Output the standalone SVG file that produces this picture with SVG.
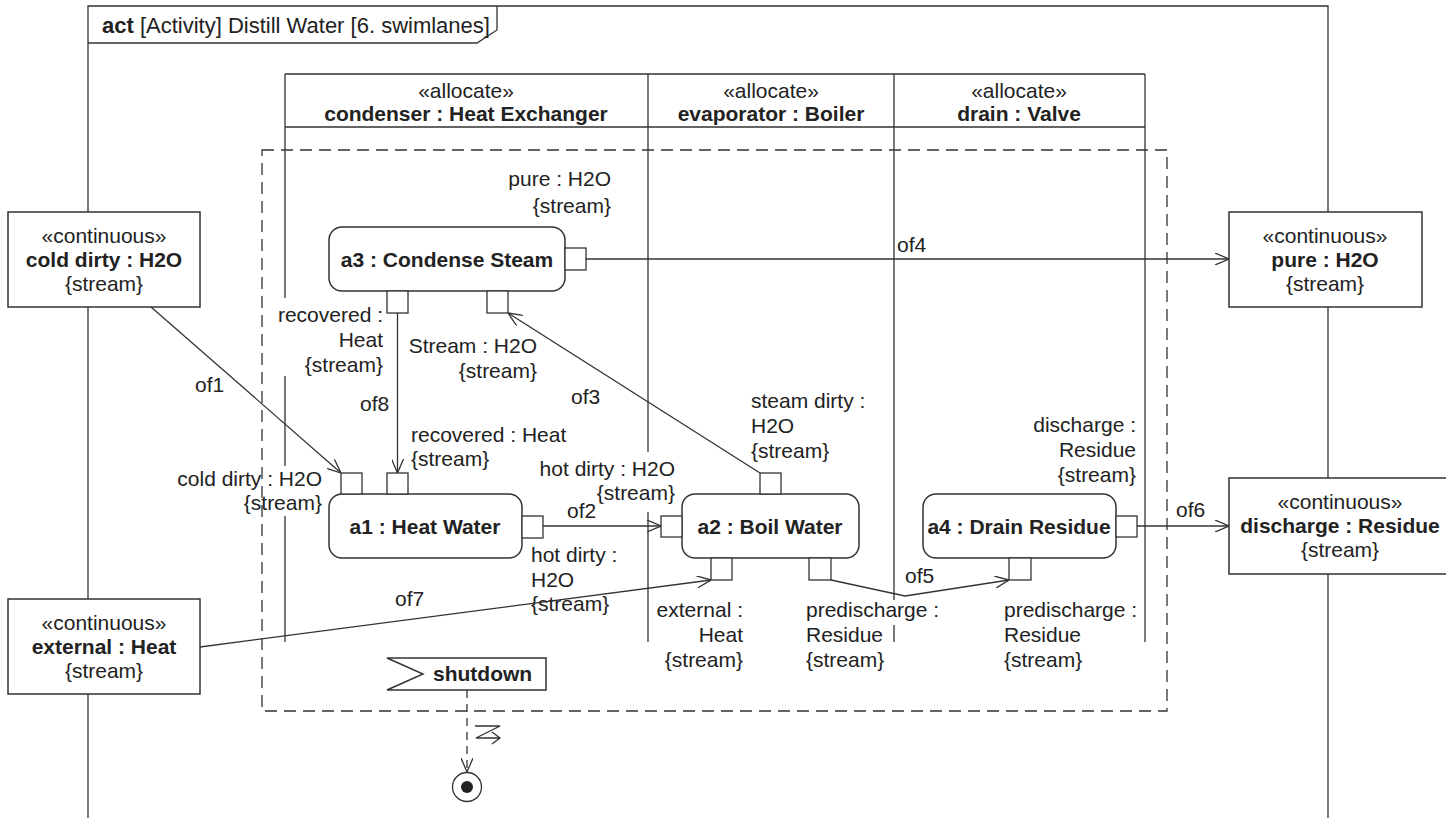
<svg xmlns="http://www.w3.org/2000/svg" width="1446" height="818" viewBox="0 0 1446 818">
  <style>
    text { font-family: "Liberation Sans", Arial, sans-serif; font-size: 21px; fill: #222; }
    .b { font-weight: bold; }
    .m { text-anchor: middle; }
    .e { text-anchor: end; }
    .ln { stroke: #333; stroke-width: 1.3; fill: none; }
    .box { stroke: #333; stroke-width: 1.5; fill: #fff; }
    .pin { stroke: #333; stroke-width: 1.3; fill: #fff; }
    .dash { stroke: #333; stroke-width: 1.3; fill: none; stroke-dasharray: 12 7; }
  </style>
  <defs>
    <marker id="arr" viewBox="0 0 14 12" refX="14" refY="6" markerWidth="14" markerHeight="12" markerUnits="userSpaceOnUse" orient="auto">
      <path d="M0,0 L14,6 L0,12" fill="none" stroke="#333" stroke-width="1.3"/>
    </marker>
  </defs>

  <rect width="1446" height="818" fill="#fff"/>

  <!-- activity frame -->
  <g id="frame">
    <path class="ln" d="M88,818 L88,6 L1328,6 L1328,818" stroke-width="1.5"/>
    <path class="ln" d="M88,43 L477,43 L497,30 L497,6"/>
    <text x="102" y="33" style="font-size:22px"><tspan class="b">act</tspan> [Activity] Distill Water [6. swimlanes]</text>
  </g>

  <!-- swimlanes -->
  <g id="swimlanes">
    <path class="ln" d="M285,74 L1145,74 M285,127 L1145,127"/>
    <path class="ln" d="M285,74 L285,298 M285,376 L285,466 M285,516 L285,642"/>
    <path class="ln" d="M648,74 L648,452 M648,512 L648,642"/>
    <path class="ln" d="M894,74 L894,600 M894,625 L894,642"/>
    <path class="ln" d="M1145,74 L1145,642"/>
    <text class="m" x="466" y="98">«allocate»</text>
    <text class="m b" x="466" y="121">condenser : Heat Exchanger</text>
    <text class="m" x="771" y="98">«allocate»</text>
    <text class="m b" x="771" y="121">evaporator : Boiler</text>
    <text class="m" x="1019" y="98">«allocate»</text>
    <text class="m b" x="1019" y="121">drain : Valve</text>
  </g>

  <!-- interruptible region -->
  <g id="region">
    <rect class="dash" x="262" y="150" width="905" height="561"/>
  </g>

  <!-- parameter nodes -->
  <g id="p-cold-dirty">
    <rect class="box" x="8" y="212" width="192" height="95"/>
    <text class="m" x="104" y="243">«continuous»</text>
    <text class="m b" x="104" y="267">cold dirty : H2O</text>
    <text class="m" x="104" y="291">{stream}</text>
  </g>
  <g id="p-external">
    <rect class="box" x="8" y="599" width="192" height="95"/>
    <text class="m" x="104" y="630">«continuous»</text>
    <text class="m b" x="104" y="654">external : Heat</text>
    <text class="m" x="104" y="678">{stream}</text>
  </g>
  <g id="p-pure">
    <rect class="box" x="1229" y="212" width="193" height="95"/>
    <text class="m" x="1325" y="243">«continuous»</text>
    <text class="m b" x="1325" y="267">pure : H2O</text>
    <text class="m" x="1325" y="291">{stream}</text>
  </g>
  <g id="p-discharge">
    <rect class="box" x="1229" y="478" width="225" height="96"/>
    <text class="m" x="1340" y="509">«continuous»</text>
    <text class="m b" x="1340" y="533">discharge : Residue</text>
    <text class="m" x="1340" y="557">{stream}</text>
  </g>

  <!-- actions -->
  <g id="a3">
    <rect class="box" x="329" y="227" width="236" height="64" rx="13"/>
    <text class="m b" x="447" y="267">a3 : Condense Steam</text>
    <rect class="pin" x="565" y="248" width="21" height="22"/>
    <rect class="pin" x="387" y="291" width="21" height="22"/>
    <rect class="pin" x="487" y="291" width="21" height="22"/>
    <text class="e" x="611" y="186">pure : H2O</text>
    <text class="e" x="611" y="213">{stream}</text>
    <text class="e" x="383" y="322">recovered :</text>
    <text class="e" x="383" y="347">Heat</text>
    <text class="e" x="383" y="372">{stream}</text>
    <text class="e" x="537" y="353">Stream : H2O</text>
    <text class="e" x="537" y="378">{stream}</text>
  </g>
  <g id="a1">
    <rect class="box" x="329" y="494" width="193" height="64" rx="13"/>
    <text class="m b" x="425" y="534">a1 : Heat Water</text>
    <rect class="pin" x="341" y="473" width="21" height="21"/>
    <rect class="pin" x="387" y="473" width="21" height="21"/>
    <rect class="pin" x="522" y="516" width="21" height="22"/>
    <text class="e" x="322" y="486">cold dirty : H2O</text>
    <text class="e" x="322" y="510">{stream}</text>
    <text x="411" y="442">recovered : Heat</text>
    <text x="411" y="466">{stream}</text>
    <text x="531" y="562">hot dirty :</text>
    <text x="531" y="587">H2O</text>
    <text x="531" y="611">{stream}</text>
  </g>
  <g id="a2">
    <rect class="box" x="682" y="494" width="177" height="64" rx="13"/>
    <text class="m b" x="770" y="534">a2 : Boil Water</text>
    <rect class="pin" x="661" y="516" width="21" height="21"/>
    <rect class="pin" x="760" y="473" width="21" height="21"/>
    <rect class="pin" x="711" y="558" width="21" height="22"/>
    <rect class="pin" x="809" y="558" width="22" height="22"/>
    <text class="e" x="675" y="476">hot dirty : H2O</text>
    <text class="e" x="675" y="500">{stream}</text>
    <text x="751" y="408">steam dirty :</text>
    <text x="751" y="433">H2O</text>
    <text x="751" y="458">{stream}</text>
    <text class="e" x="743" y="617">external :</text>
    <text class="e" x="743" y="642">Heat</text>
    <text class="e" x="743" y="667">{stream}</text>
    <text x="806" y="617">predischarge :</text>
    <text x="806" y="642">Residue</text>
    <text x="806" y="667">{stream}</text>
  </g>
  <g id="a4">
    <rect class="box" x="923" y="494" width="193" height="64" rx="13"/>
    <text class="m b" x="1019" y="534">a4 : Drain Residue</text>
    <rect class="pin" x="1116" y="516" width="21" height="21"/>
    <rect class="pin" x="1009" y="558" width="22" height="22"/>
    <text class="e" x="1136" y="432">discharge :</text>
    <text class="e" x="1136" y="457">Residue</text>
    <text class="e" x="1136" y="482">{stream}</text>
    <text x="1004" y="617">predischarge :</text>
    <text x="1004" y="642">Residue</text>
    <text x="1004" y="667">{stream}</text>
  </g>

  <!-- accept event and final node -->
  <g id="shutdown">
    <path class="box" d="M387,658 L546,658 L546,690 L387,690 L423,674 Z" stroke-width="1.3"/>
    <text class="b" x="433" y="681">shutdown</text>
  </g>
  <g id="final">
    <circle cx="467" cy="787" r="14.5" fill="#fff" stroke="#333" stroke-width="1.3"/>
    <circle cx="467" cy="787" r="6" fill="#222"/>
  </g>

  <!-- object flows -->
  <g id="connectors">
    <path class="ln" d="M151,307 L341,473" marker-end="url(#arr)"/>
    <text x="195" y="392">of1</text>
    <path class="ln" d="M397.5,313 L397.5,473" marker-end="url(#arr)"/>
    <text x="360" y="411">of8</text>
    <path class="ln" d="M543,526 L661,526" marker-end="url(#arr)"/>
    <text x="567" y="518">of2</text>
    <path class="ln" d="M760,473 L508,313" marker-end="url(#arr)"/>
    <text x="571" y="404">of3</text>
    <path class="ln" d="M586,259 L1229,259" marker-end="url(#arr)"/>
    <text x="897" y="252">of4</text>
    <path class="ln" d="M831,580 L905,596 L1009,580" marker-end="url(#arr)"/>
    <text x="905" y="583">of5</text>
    <path class="ln" d="M1137,526 L1229,526" marker-end="url(#arr)"/>
    <text x="1176" y="517">of6</text>
    <path class="ln" d="M200,647 L711,580" marker-end="url(#arr)"/>
    <text x="395" y="606">of7</text>
    <path class="ln" d="M467,690 L467,772" stroke-dasharray="8 6" marker-end="url(#arr)"/>
    <path class="ln" d="M475,726 L500,726 L476,738 L500,738 M492,732 L500,738 L492,744"/>
  </g>
</svg>
